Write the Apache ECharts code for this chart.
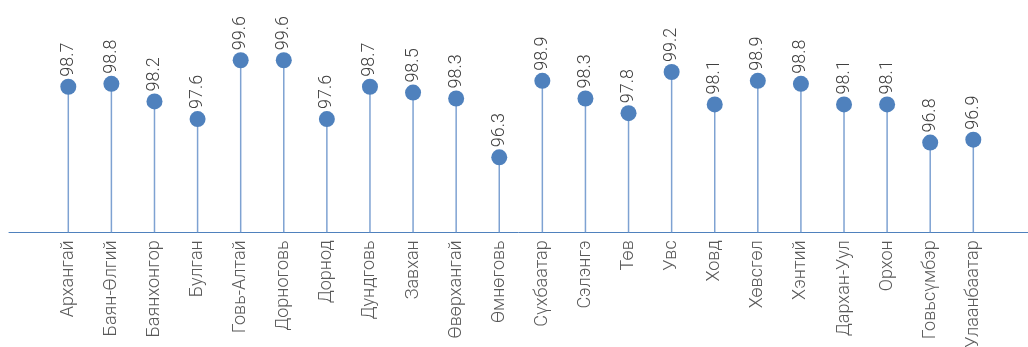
<!DOCTYPE html>
<html>
<head>
<meta charset="utf-8">
<script src="https://cdn.jsdelivr.net/npm/echarts@6/dist/echarts.min.js"></script>
<style>
    html, body { margin: 0; padding: 0; background: #fff; }
    #chart { width: 1028px; height: 347px; }
</style>
</head>
<body>
<div id="chart"></div>
<script>
// aimag names and values
var categories = [
    "Архангай", "Баян-Өлгий", "Баянхонгор", "Булган", "Говь-Алтай",
    "Дорноговь", "Дорнод", "Дундговь", "Завхан", "Өвөрхангай",
    "Өмнөговь", "Сүхбаатар", "Сэлэнгэ", "Төв", "Увс", "Ховд",
    "Хөвсгөл", "Хэнтий", "Дархан-Уул", "Орхон", "Говьсүмбэр", "Улаанбаатар"
];
var values = [
    98.7, 98.8, 98.2, 97.6, 99.6,
    99.6, 97.6, 98.7, 98.5, 98.3,
    96.3, 98.9, 98.3, 97.8, 99.2, 98.1,
    98.9, 98.8, 98.1, 98.1, 96.8, 96.9
];

var myChart = echarts.init(document.getElementById("chart"));
var textFont = "Roboto, 'Noto Sans', sans-serif";

var option = {
    animation: false,
    grid: [
        { left: 46.75, width: 948.1, top: 48.5, height: 183.8, outerBoundsMode: "none" },
        // just for the long baseline
        { left: 9, right: 0, top: 48.5, height: 183.8, outerBoundsMode: "none" }
    ],
    xAxis: [
        {
            type: "category",
            gridIndex: 0,
            data: categories,
            axisLine: { show: false },
            axisTick: { show: false },
            axisLabel: {
                rotate: 90,
                margin: 8,
                color: "#595959",
                fontSize: 18,
                fontWeight: 300,
                fontFamily: textFont
            }
        },
        {
            type: "value",
            gridIndex: 1,
            axisLine: { show: true, lineStyle: { color: "#4f81bd", width: 1 } },
            axisTick: { show: false },
            axisLabel: { show: false },
            splitLine: { show: false }
        }
    ],
    yAxis: [
        {
            type: "value",
            gridIndex: 0,
            min: 93.75,
            max: 100,
            show: false
        },
        { type: "value", gridIndex: 1, show: false }
    ],
    series: [
        {
            type: "bar",
            data: values,
            barWidth: 1.5,
            itemStyle: { color: "#7ea2d2" },
            silent: true
        },
        {
            type: "scatter",
            data: values,
            symbol: "circle",
            symbolSize: 16,
            itemStyle: { color: "#4f81bd", opacity: 1 },
            label: {
                show: true,
                position: "top",
                rotate: 90,
                align: "left",
                verticalAlign: "middle",
                distance: 2,
                color: "#404040",
                fontSize: 18,
                fontWeight: 300,
                fontFamily: textFont
            }
        }
    ]
};

myChart.setOption(option);
window.addEventListener("resize", myChart.resize);
</script>
</body>
</html>
